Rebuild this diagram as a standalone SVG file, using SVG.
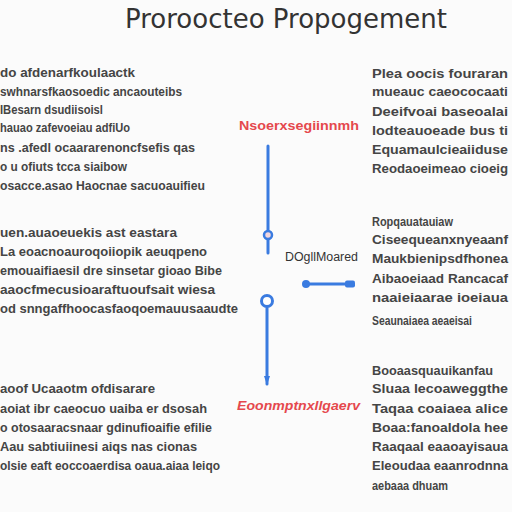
<svg xmlns="http://www.w3.org/2000/svg" width="512" height="512" viewBox="0 0 512 512">
<style>
.t{font-family:"Liberation Sans",Arial,sans-serif;font-size:12px;font-weight:bold;fill:#454545}
.r{font-family:"Liberation Sans",Arial,sans-serif;font-size:13px;font-weight:bold;fill:#e5484d}
.ln{stroke:#3a7be0;stroke-width:3;fill:none;stroke-linecap:round}
</style>
<rect width="512" height="512" fill="#fbfbfb"/>
<text x="125" y="28" textLength="322" lengthAdjust="spacingAndGlyphs" style="font-family:'DejaVu Sans',sans-serif;font-size:27px;fill:#333">Proroocteo Propogement</text>
<g id="left1">
<text class="t" x="0" y="77" textLength="135" lengthAdjust="spacingAndGlyphs">do afdenarfkoulaactk</text>
<text class="t" x="0" y="96" textLength="182" lengthAdjust="spacingAndGlyphs">swhnarsfkaosoedic ancaouteibs</text>
<text class="t" x="0" y="114" textLength="103" lengthAdjust="spacingAndGlyphs">IBesarn dsudiisoisl</text>
<text class="t" x="0" y="132" textLength="130" lengthAdjust="spacingAndGlyphs">hauao zafevoeiau adfiUo</text>
<text class="t" x="0" y="152" textLength="195" lengthAdjust="spacingAndGlyphs">ns .afedl ocaararenoncfsefis  qas</text>
<text class="t" x="0" y="171" textLength="127" lengthAdjust="spacingAndGlyphs">o u ofiuts tcca siaibow</text>
<text class="t" x="0" y="190" textLength="205" lengthAdjust="spacingAndGlyphs">osacce.asao Haocnae sacuoauifieu</text>
</g>
<g id="left2">
<text class="t" x="0" y="237" textLength="177" lengthAdjust="spacingAndGlyphs">uen.auaoeuekis ast eastara</text>
<text class="t" x="0" y="256" textLength="207" lengthAdjust="spacingAndGlyphs">La eoacnoauroqoiiopik aeuqpeno</text>
<text class="t" x="0" y="275" textLength="222" lengthAdjust="spacingAndGlyphs">emouaifiaesil dre sinsetar  gioao Bibe</text>
<text class="t" x="0" y="294" textLength="215" lengthAdjust="spacingAndGlyphs">aaocfmecusioaraftuoufsait wiesa</text>
<text class="t" x="0" y="313" textLength="238" lengthAdjust="spacingAndGlyphs">od snngaffhoocasfaoqoemauusaaudte</text>
</g>
<g id="left3">
<text class="t" x="0" y="393" textLength="155" lengthAdjust="spacingAndGlyphs">aoof Ucaaotm ofdisarare</text>
<text class="t" x="0" y="413" textLength="207" lengthAdjust="spacingAndGlyphs">aoiat ibr caeocuo  uaiba  er dsosah</text>
<text class="t" x="0" y="432" textLength="212" lengthAdjust="spacingAndGlyphs">o otosaaracsnaar gdinufioaifie efilie</text>
<text class="t" x="0" y="451" textLength="197" lengthAdjust="spacingAndGlyphs">Aau sabtiuiinesi  aiqs  nas cionas</text>
<text class="t" x="0" y="470" textLength="220" lengthAdjust="spacingAndGlyphs">olsie eaft eoccoaerdisa oaua.aiaa  leiqo</text>
</g>
<g id="right1">
<text class="t" x="372" y="78" textLength="136" lengthAdjust="spacingAndGlyphs">Plea oocis fouraran</text>
<text class="t" x="372" y="96" textLength="136" lengthAdjust="spacingAndGlyphs">mueauc caeococaati</text>
<text class="t" x="372" y="116" textLength="136" lengthAdjust="spacingAndGlyphs">Deeifvoai baseoalai</text>
<text class="t" x="372" y="135" textLength="136" lengthAdjust="spacingAndGlyphs">lodteauoeade  bus ti</text>
<text class="t" x="372" y="154" textLength="136" lengthAdjust="spacingAndGlyphs">Equamaulcieaiiduse</text>
<text class="t" x="372" y="173" textLength="136" lengthAdjust="spacingAndGlyphs">Reodaoeimeao cioeig</text>
</g>
<g id="right2">
<text class="t" x="372" y="226" textLength="81" lengthAdjust="spacingAndGlyphs">Ropqauatauiaw</text>
<text class="t" x="372" y="244" textLength="136" lengthAdjust="spacingAndGlyphs">Ciseequeanxnyeaanf</text>
<text class="t" x="372" y="263" textLength="136" lengthAdjust="spacingAndGlyphs">Maukbienipsdfhonea</text>
<text class="t" x="372" y="283" textLength="136" lengthAdjust="spacingAndGlyphs">Aibaoeiaad Rancacaf</text>
<text class="t" x="372" y="302" textLength="136" lengthAdjust="spacingAndGlyphs">naaieiaarae ioeiaua</text>
<text class="t" x="372" y="325" textLength="100" lengthAdjust="spacingAndGlyphs">Seaunaiaea aeaeisai</text>
</g>
<g id="right3">
<text class="t" x="372" y="375" textLength="121" lengthAdjust="spacingAndGlyphs">Booaasquauikanfau</text>
<text class="t" x="372" y="393" textLength="136" lengthAdjust="spacingAndGlyphs">Sluaa lecoaweggthe</text>
<text class="t" x="372" y="413" textLength="136" lengthAdjust="spacingAndGlyphs">Taqaa coaiaea alice</text>
<text class="t" x="372" y="432" textLength="136" lengthAdjust="spacingAndGlyphs">Boaa:fanoaldola hee</text>
<text class="t" x="372" y="451" textLength="136" lengthAdjust="spacingAndGlyphs">Raaqaal eaaoayisaua</text>
<text class="t" x="372" y="470" textLength="136" lengthAdjust="spacingAndGlyphs">Eleoudaa eaanrodnna</text>
<text class="t" x="372" y="490" textLength="76" lengthAdjust="spacingAndGlyphs">aebaaa dhuam</text>
</g>
<g id="label-top">
<text class="r" x="239" y="130" textLength="120" lengthAdjust="spacingAndGlyphs">Nsoerxsegiinnmh</text>
</g>
<g id="label-mid">
<text class="t" x="285" y="261" textLength="73" lengthAdjust="spacingAndGlyphs" style="font-weight:normal;fill:#333">DOgllMoared</text>
</g>
<g id="label-bottom">
<text class="r" x="237" y="410" textLength="123" lengthAdjust="spacingAndGlyphs" style="font-style:italic">Eoonmptnxllgaerv</text>
</g>
<g id="connectors">
<line class="ln" x1="268" y1="146" x2="268" y2="231"/>
<line class="ln" x1="268" y1="239" x2="268" y2="253"/>
<circle cx="268" cy="235" r="4" fill="#f2d6de" stroke="#3a7be0" stroke-width="2.5"/>
<line class="ln" x1="306" y1="284" x2="346" y2="284"/>
<circle cx="306" cy="284" r="4" fill="#3a7be0"/>
<rect x="345" y="280.5" width="10" height="7" rx="2" fill="#3a7be0"/>
<line class="ln" x1="267" y1="308" x2="267" y2="384"/>
<circle cx="267" cy="301" r="5.5" fill="#fff" stroke="#3a7be0" stroke-width="3"/>
<path d="M264 376 L270 376 L267 385 Z" fill="#3a7be0"/>
</g>
</svg>
